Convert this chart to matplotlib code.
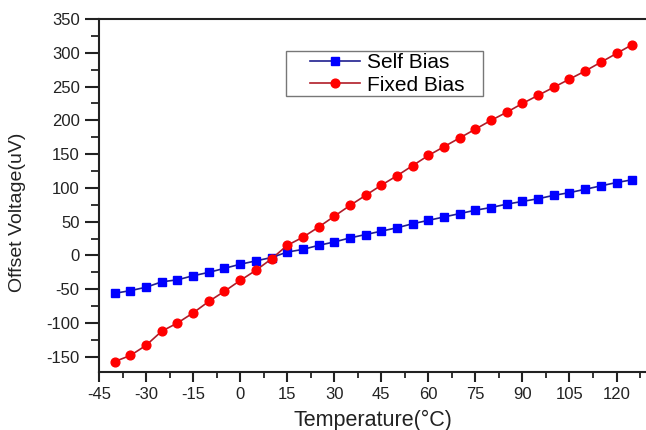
import matplotlib
matplotlib.use("Agg")
import matplotlib.pyplot as plt
from matplotlib.ticker import MultipleLocator
from matplotlib.patches import Rectangle

temperature = [-40, -35, -30, -25, -20, -15, -10, -5, 0, 5, 10, 15, 20, 25, 30, 35, 40,
               45, 50, 55, 60, 65, 70, 75, 80, 85, 90, 95, 100, 105, 110, 115, 120, 125]
self_bias = [-56, -52, -47, -39, -36, -30, -25, -19, -13, -8, -3, 5, 9, 15, 20, 26, 31,
             36, 41, 47, 52, 57, 62, 67, 71, 76, 80, 84, 89, 93, 98, 103, 108, 112]
fixed_bias = [-157, -148, -133, -112, -100, -85, -68, -53, -37, -22, -5, 15, 27, 42, 58, 74, 89,
              104, 118, 133, 148, 161, 174, 187, 200, 212, 225, 237, 249, 261, 273, 286, 299, 312]
series_labels = ["Self Bias", "Fixed Bias"]
x_label = "Temperature(\u00b0C)"
y_label = "Offset Voltage(uV)"

plt.rcParams['font.family'] = ['Liberation Sans', 'DejaVu Sans']
plt.rcParams['axes.unicode_minus'] = False

fig = plt.figure(figsize=(6.46, 4.30), dpi=100)
ax = fig.add_axes([0.1533, 0.1356, 0.8467, 0.8202])

ax.plot(temperature, self_bias, color='#1f1f8f', lw=1.2, marker='s', ms=5.2,
        mfc='#0000ff', mec='#0000ff', label=series_labels[0])
ax.plot(temperature, fixed_bias, color='#b01c28', lw=1.2, marker='o', ms=6.3,
        mfc='#ff0000', mec='#ff0000', label=series_labels[1])

ax.set_xlim(-45, 129.4)
ax.set_ylim(-172, 350)
ax.xaxis.set_major_locator(MultipleLocator(15))
ax.xaxis.set_minor_locator(MultipleLocator(7.5))
ax.yaxis.set_major_locator(MultipleLocator(50))
ax.yaxis.set_minor_locator(MultipleLocator(25))
ax.set_yticks([-150, -100, -50, 0, 50, 100, 150, 200, 250, 300, 350])

for side in ['left', 'bottom', 'top']:
    ax.spines[side].set_linewidth(1.5)
    ax.spines[side].set_color('#222222')
ax.spines['right'].set_visible(False)

ax.tick_params(which='both', direction='out', colors='#222222', top=False, right=False)
ax.tick_params(axis='x', which='major', length=7, width=1.5, labelsize=12, pad=4)
ax.tick_params(axis='x', which='minor', length=4, width=1.3)
ax.tick_params(axis='y', which='major', length=10, width=1.5, labelsize=12, pad=4)
ax.tick_params(axis='y', which='minor', length=6, width=1.3)

fig.text(373 / 646, 1 - 420 / 430, x_label, ha='center', va='center',
         fontsize=15.5, color='#222222')
fig.text(18 / 646, 1 - 212 / 430, y_label, ha='center', va='center', rotation=90,
         fontsize=14, color='#222222')

leg = fig.legend(loc='center left', bbox_to_anchor=(310 / 646, 1 - 74 / 430),
                 bbox_transform=fig.transFigure, fontsize=15, handlelength=2.4,
                 frameon=False, borderpad=0, labelspacing=0.15, handletextpad=0.35,
                 borderaxespad=0)
fig.patches.append(Rectangle((286 / 646, 1 - 96 / 430), 197 / 646, 45 / 430,
                             transform=fig.transFigure, fill=False,
                             edgecolor='#777777', lw=1.0))

fig.savefig("out.png", dpi=100)
